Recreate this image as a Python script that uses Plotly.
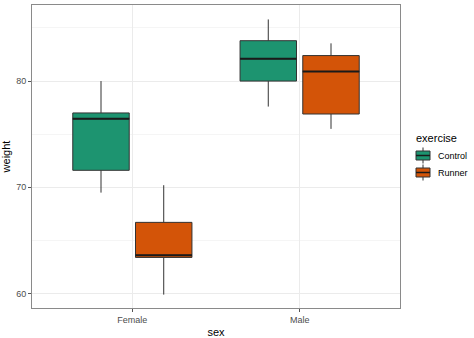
import plotly.graph_objects as go

# Summary statistics of weight by sex and exercise group
sexes = ["Female", "Male"]
groups = ["Control", "Runner"]
colors = {"Control": "#1D9470", "Runner": "#D35408"}

lower = {"Control": [69.5, 77.6], "Runner": [59.9, 75.5]}
q1 = {"Control": [71.6, 80.0], "Runner": [63.4, 76.9]}
median = {"Control": [76.45, 82.1], "Runner": [63.6, 80.9]}
q3 = {"Control": [77.0, 83.8], "Runner": [66.7, 82.4]}
upper = {"Control": [80.0, 85.8], "Runner": [70.2, 83.55]}

W, H = 474, 338
M = dict(l=32, r=74, t=5, b=30)
PW, PH = W - M["l"] - M["r"], H - M["t"] - M["b"]


def px_x(p):
    return (p - M["l"]) / PW


def px_y(p):
    return 1 - (p - M["t"]) / PH


dodge = 0.75 / len(groups)
box_w = dodge * 0.9

fig = go.Figure()
for gi, g in enumerate(groups):
    offset = (gi - (len(groups) - 1) / 2) * dodge
    xs = [i + 1 + offset for i in range(len(sexes))]
    fig.add_trace(go.Box(
        name=g, x=xs, q1=q1[g], median=median[g], q3=q3[g],
        lowerfence=lower[g], upperfence=upper[g],
        width=box_w, fillcolor=colors[g],
        line=dict(color="#333333", width=1),
        whiskerwidth=0, hoverinfo="skip", showlegend=False,
    ))
    # thicker median bar
    mx, my = [], []
    for x, m in zip(xs, median[g]):
        mx += [x - box_w / 2, x + box_w / 2, None]
        my += [m, m, None]
    fig.add_trace(go.Scatter(
        x=mx, y=my, mode="lines", line=dict(color="#1a1a1a", width=2),
        showlegend=False, hoverinfo="skip",
    ))

# Legend drawn in the right margin: title, boxplot keys and labels
fig.add_annotation(text="exercise", xref="paper", yref="paper",
                   x=px_x(414), y=px_y(138), xanchor="left", yanchor="middle",
                   showarrow=False, font=dict(size=11, color="black"))
for gi, g in enumerate(groups):
    cy = 155.5 + gi * 17
    x0, x1 = 416, 430
    xc = (x0 + x1) / 2
    fig.add_shape(type="line", xref="paper", yref="paper",
                  x0=px_x(xc), x1=px_x(xc), y0=px_y(cy - 8), y1=px_y(cy + 8),
                  line=dict(color="#333333", width=1))
    fig.add_shape(type="rect", xref="paper", yref="paper",
                  x0=px_x(x0), x1=px_x(x1), y0=px_y(cy - 4.5), y1=px_y(cy + 4.5),
                  fillcolor=colors[g], line=dict(color="#333333", width=1))
    fig.add_shape(type="line", xref="paper", yref="paper",
                  x0=px_x(x0), x1=px_x(x1), y0=px_y(cy), y1=px_y(cy),
                  line=dict(color="#1a1a1a", width=1.5))
    fig.add_annotation(text=g, xref="paper", yref="paper",
                       x=px_x(436), y=px_y(cy), xanchor="left", yanchor="middle",
                       showarrow=False, font=dict(size=9, color="black"))

fig.update_layout(
    width=W, height=H,
    margin=dict(**M, autoexpand=False),
    paper_bgcolor="white", plot_bgcolor="white",
    font=dict(family="Liberation Sans, Arial, sans-serif", size=11, color="black"),
    showlegend=False,
    xaxis=dict(
        range=[0.4, 2.6], tickmode="array", tickvals=[1, 2], ticktext=sexes,
        title=dict(text="sex", standoff=4, font=dict(size=11)),
        showgrid=True, gridcolor="#EBEBEB", gridwidth=1,
        zeroline=False, showline=True, linecolor="#8A8A8A", linewidth=1, mirror=True,
        ticks="outside", ticklen=3, tickcolor="#555555",
        tickfont=dict(size=9, color="#4D4D4D"),
    ),
    yaxis=dict(
        range=[58.64, 87.16], tickvals=[60, 70, 80],
        title=dict(text="weight", standoff=4, font=dict(size=11)),
        showgrid=True, gridcolor="#EBEBEB", gridwidth=1,
        minor=dict(tickvals=[65, 75, 85], showgrid=True, gridcolor="#F5F5F5", gridwidth=1),
        zeroline=False, showline=True, linecolor="#8A8A8A", linewidth=1, mirror=True,
        ticks="outside", ticklen=3, tickcolor="#555555",
        tickfont=dict(size=9, color="#4D4D4D"),
    ),
)

fig.write_html("out.html")
